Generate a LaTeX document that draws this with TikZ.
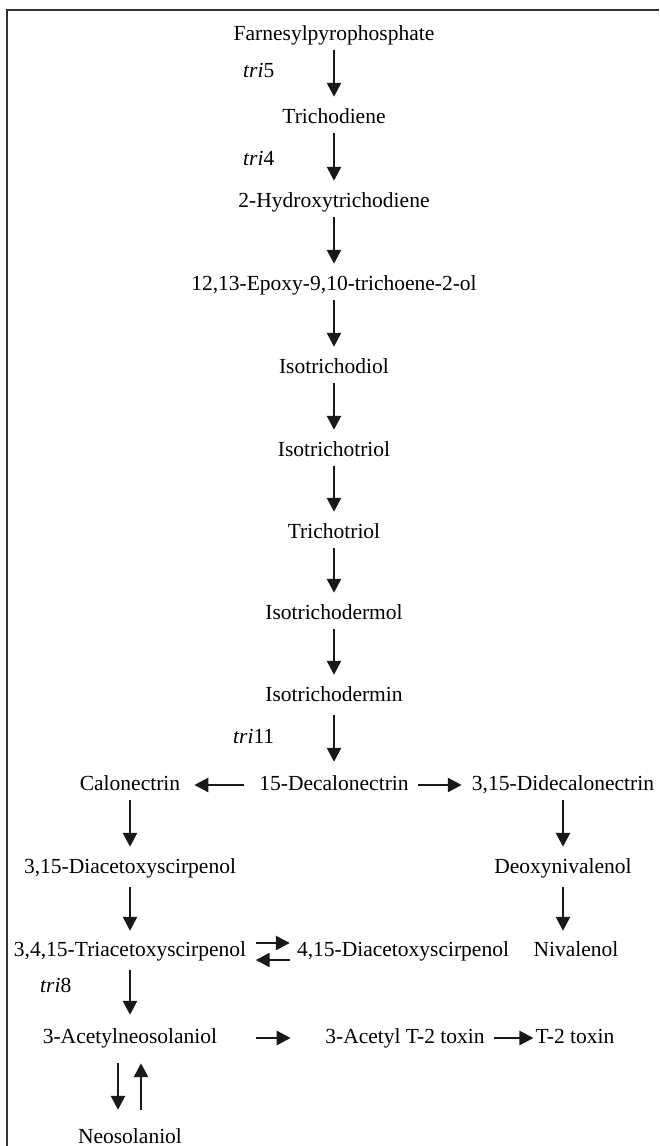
\documentclass[tikz,border=0pt]{standalone}
\usepackage{fontspec}
\setmainfont{Liberation Serif}
\usetikzlibrary{arrows.meta}
\begin{document}
\begin{tikzpicture}[x=1pt,y=-1pt,
  every node/.style={font=\fontsize{21.5}{26}\selectfont},
  lbl/.style={inner sep=0pt, text height=15pt, text depth=5pt, anchor=base},
  gene/.style={inner sep=0pt, anchor=base west},
  arr/.style={-{Triangle[length=14pt,width=14pt]}, line width=2.6pt, black!90, shorten <=5pt, shorten >=11pt},
  frame/.style={line width=2pt, black!80}]
\useasboundingbox (0,0) rectangle (659,1146);
\draw[frame] (6.5,1146) -- (6.5,9.5) -- (659,9.5);

% main chain
\node[lbl] (fpp)   at (334,40)  {Farnesylpyrophosphate};
\node[lbl] (tdn)   at (334,123) {Trichodiene};
\node[lbl] (htd)   at (334,207) {2-Hydroxytrichodiene};
\node[lbl] (epx)   at (334,290) {12,13-Epoxy-9,10-trichoene-2-ol};
\node[lbl] (itd)   at (334,373) {Isotrichodiol};
\node[lbl] (itt)   at (334,456) {Isotrichotriol};
\node[lbl] (tt)    at (334,538) {Trichotriol};
\node[lbl] (itdol) at (334,619) {Isotrichodermol};
\node[lbl] (itdin) at (334,701) {Isotrichodermin};
\node[lbl] (dec)   at (334,790) {15-Decalonectrin};
\node[lbl] (cal)   at (130,790) {Calonectrin};
\node[lbl] (ddec)  at (563,790) {3,15-Didecalonectrin};
\node[lbl] (das)   at (130,873) {3,15-Diacetoxyscirpenol};
\node[lbl] (don)   at (563,873) {Deoxynivalenol};
\node[lbl] (tas)   at (130,956) {3,4,15-Triacetoxyscirpenol};
\node[lbl] (dasb)  at (403,956) {4,15-Diacetoxyscirpenol};
\node[lbl] (niv)   at (576,956) {Nivalenol};
\node[lbl] (acn)   at (130,1043) {3-Acetylneosolaniol};
\node[lbl] (act)   at (405,1043) {3-Acetyl T-2 toxin};
\node[lbl] (ttwo)  at (575,1043) {T-2 toxin};
\node[lbl] (neo)   at (130,1143) {Neosolaniol};

% gene labels
\node[gene] (g5)  at (243,77)  {\textit{tri}5};
\node[gene] (g4)  at (243,165) {\textit{tri}4};
\node[gene] (g11) at (233,743) {\textit{tri}11};
\node[gene] (g8)  at (40,992)  {\textit{tri}8};

% vertical arrows
\draw[arr] (fpp) -- (tdn);
\draw[arr] (tdn) -- (htd);
\draw[arr] (htd) -- (epx);
\draw[arr] (epx) -- (itd);
\draw[arr] (itd) -- (itt);
\draw[arr] (itt) -- (tt);
\draw[arr] (tt) -- (itdol);
\draw[arr] (itdol) -- (itdin);
\draw[arr, shorten <=9pt, shorten >=13pt] (itdin) -- (dec);
\draw[arr] (cal) -- (das);
\draw[arr] (ddec) -- (don);
\draw[arr, shorten <=9pt, shorten >=10pt] (das) -- (tas);
\draw[arr, shorten <=9pt, shorten >=10pt] (don.south) -- (don.south |- niv.north);
\draw[arr, shorten <=9pt, shorten >=13pt] (tas) -- (acn);
\draw[arr, shorten <=15pt, shorten >=18pt] ([xshift=-12pt]acn.south) -- ([xshift=-12pt]neo.north);
\draw[arr, shorten <=18pt, shorten >=15pt] ([xshift=11pt]neo.north) -- ([xshift=11pt]acn.south);

% horizontal arrows
\draw[arr, shorten <=15pt, shorten >=14pt] (dec.west) -- (cal.east);
\draw[arr, shorten <=9.5pt, shorten >=10pt] (dec.east) -- (ddec.west);
\draw[arr, shorten <=9.5pt, shorten >=7pt] ([yshift=8pt]tas.east) -- ([yshift=8pt]dasb.west);
\draw[arr, shorten <=7pt, shorten >=9.5pt] ([yshift=-9pt]dasb.west) -- ([yshift=-9pt]tas.east);
\draw[arr, shorten <=39pt, shorten >=34.5pt] (acn.east) -- (act.west);
\draw[arr, shorten <=9.5pt, shorten >=2pt] (act.east) -- (ttwo.west);
\end{tikzpicture}
\end{document}
